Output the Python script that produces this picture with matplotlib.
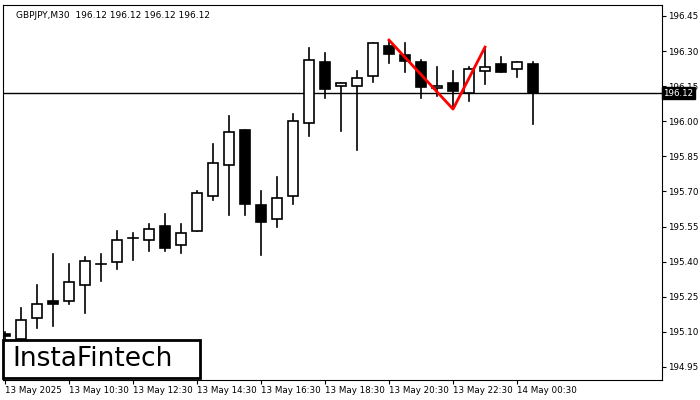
import numpy as np
import matplotlib.pyplot as plt
import matplotlib.patches as patches

opens = [195.09, 195.069, 195.159, 195.232, 195.232, 195.300, 195.390, 195.398, 195.501, 195.492,
         195.552, 195.471, 195.531, 195.680, 195.813, 195.962, 195.642, 195.582, 195.680, 195.992,
         196.253, 196.150, 196.150, 196.193, 196.321, 196.283, 196.253, 196.142, 196.163, 196.120,
         196.215, 196.244, 196.223, 196.244]
closes = [195.08, 195.150, 195.219, 195.219, 195.313, 195.403, 195.392, 195.492, 195.503, 195.539,
          195.458, 195.522, 195.693, 195.821, 195.954, 195.646, 195.569, 195.672, 196.001, 196.262,
          196.138, 196.163, 196.185, 196.334, 196.287, 196.257, 196.146, 196.150, 196.129, 196.223,
          196.232, 196.210, 196.253, 196.12]
highs = [195.10, 195.202, 195.300, 195.432, 195.390, 195.420, 195.432, 195.531, 195.522, 195.561,
         195.603, 195.561, 195.702, 195.903, 196.022, 195.962, 195.702, 195.762, 196.031, 196.313,
         196.291, 196.163, 196.215, 196.334, 196.347, 196.334, 196.262, 196.232, 196.215, 196.232,
         196.317, 196.274, 196.253, 196.253]
lows = [195.07, 195.069, 195.116, 195.125, 195.219, 195.180, 195.317, 195.368, 195.407, 195.445,
        195.445, 195.437, 195.531, 195.663, 195.599, 195.599, 195.428, 195.548, 195.646, 195.937,
        196.099, 195.958, 195.877, 196.168, 196.249, 196.210, 196.099, 196.108, 196.052, 196.086,
        196.159, 196.210, 196.189, 195.988]
pattern_idx = [24, 28, 30]
pattern_px = [196.347, 196.052, 196.317]
last_price = 196.12
yticks = [194.95, 195.10, 195.25, 195.40, 195.55, 195.70, 195.85, 196.00, 196.15, 196.30, 196.45]
xtick_idx = [0, 4, 8, 12, 16, 20, 24, 28, 32]
xtick_labels = ["13 May 2025", "13 May 10:30", "13 May 12:30", "13 May 14:30", "13 May 16:30",
                "13 May 18:30", "13 May 20:30", "13 May 22:30", "14 May 00:30"]

fig = plt.figure(figsize=(7, 4), dpi=100)
ax = fig.add_axes([3 / 700, 20 / 400, 659 / 700, 375 / 400])
w = 0.6
for i in range(len(opens)):
    o, c = opens[i], closes[i]
    ax.plot([i, i], [lows[i], highs[i]], color='black', lw=1.2, zorder=2)
    lo, hi = min(o, c), max(o, c)
    if hi - lo < 0.004:
        ax.plot([i - w / 2, i + w / 2], [o, o], color='black', lw=1.2, zorder=3)
    else:
        face = 'white' if c > o else 'black'
        ax.add_patch(patches.Rectangle((i - w / 2, lo), w, hi - lo, facecolor=face,
                                       edgecolor='black', lw=1.2, zorder=3))

ax.plot(pattern_idx, pattern_px, color='red', lw=2, zorder=4)
ax.axhline(last_price, color='black', lw=1, zorder=1)

ax.set_xlim(-0.125, 41.06)
ax.set_ylim(194.894, 196.497)
ax.yaxis.tick_right()
ax.set_yticks(yticks)
ax.set_yticklabels([f"{v:.2f}" for v in yticks], fontsize=6.3)
ax.set_xticks(xtick_idx)
ax.set_xticklabels(xtick_labels, fontsize=6.3, ha='left')
ax.tick_params(length=3, width=0.8, pad=1.5)
for s in ax.spines.values():
    s.set_linewidth(0.8)

ax.text(1.002, last_price, f"{last_price:.2f}", transform=ax.get_yaxis_transform(),
        fontsize=6.3, color='white', va='center', ha='left', zorder=20,
        bbox=dict(facecolor='black', edgecolor='black', pad=1.2))
ax.text(0.02, 0.985, "GBPJPY,M30  196.12 196.12 196.12 196.12", transform=ax.transAxes,
        fontsize=6.5, va='top', ha='left')

fig.patches.append(patches.Rectangle((3 / 700, 22 / 400), 197 / 700, 38 / 400, transform=fig.transFigure,
                                     facecolor='white', edgecolor='black', lw=2, zorder=10))
fig.text(93 / 700, 41 / 400, "InstaFintech", fontsize=19, ha='center', va='center', zorder=11)

fig.savefig("out.png", dpi=100)
